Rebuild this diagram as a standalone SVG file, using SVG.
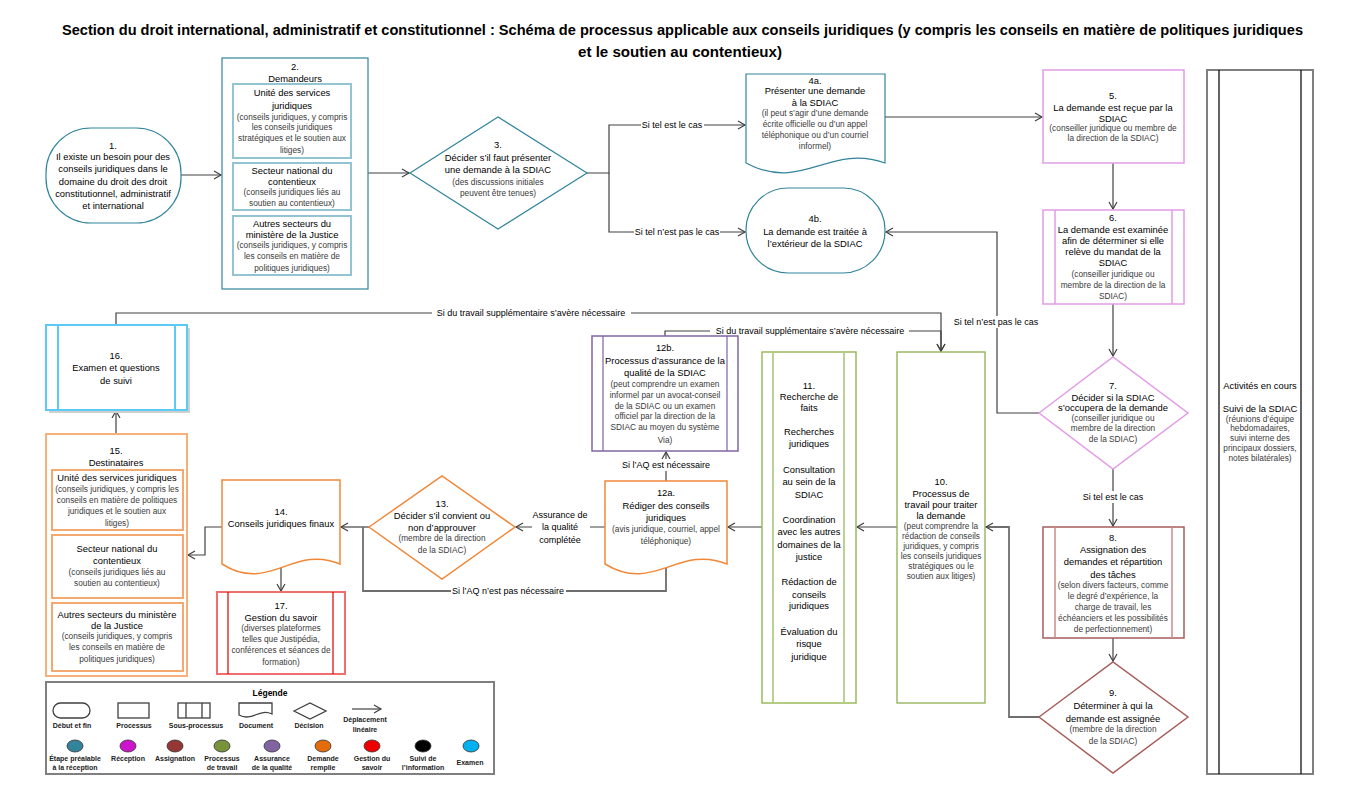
<svg xmlns="http://www.w3.org/2000/svg" width="1357" height="802" viewBox="0 0 1357 802">
<defs>
<style>
text{font-family:"Liberation Sans",Arial,sans-serif;text-anchor:middle;dominant-baseline:central;fill:#000;font-size:9.4px}
.s{font-size:8.3px;fill:#3a3a3a}
.lb{font-size:9px}
.title{font-size:14.5px;font-weight:bold;text-anchor:start;dominant-baseline:auto}
.lg{font-size:7px;font-weight:bold;fill:#222}
.c{fill:none;stroke:#404040;stroke-width:1.2}
.cg{fill:none;stroke:#6e6e6e;stroke-width:1.8}
.bg{fill:#fff}
.teal{fill:#fff;stroke:#31849B;stroke-width:1.2}
.tealin{fill:#fff;stroke:#93C4D2;stroke-width:2}
.pink{fill:#fff;stroke:#E29CE5;stroke-width:1.5}
.brown{fill:#fff;stroke:#A65E5B;stroke-width:1.5}
.green{fill:#fff;stroke:#9BBB59;stroke-width:1.5}
.purple{fill:#fff;stroke:#8064A2;stroke-width:1.5}
.orange{fill:#fff;stroke:#F0883A;stroke-width:1.5}
.orlt{fill:#fff;stroke:#F7B07A;stroke-width:2}
.red{fill:#fff;stroke:#F06E6E;stroke-width:2}
.blue{fill:#fff;stroke:#5BCBF5;stroke-width:2}
.gray{fill:#fff;stroke:#7F7F7F;stroke-width:2}
.ls{fill:none;stroke:#404040;stroke-width:1.3}
</style>
<marker id="ah" markerWidth="10" markerHeight="10" refX="8" refY="5" orient="auto" markerUnits="userSpaceOnUse">
<path d="M1,1 L8,5 L1,9" fill="none" stroke="#404040" stroke-width="1.2"/>
</marker>
</defs>
<rect width="1357" height="802" fill="#fff"/>

<g id="title">
<text class="title" x="62" y="35" textLength="1241" lengthAdjust="spacingAndGlyphs">Section du droit international, administratif et constitutionnel : Schéma de processus applicable aux conseils juridiques  (y compris les conseils en matière de politiques juridiques</text>
<text class="title" x="578" y="57" textLength="204" lengthAdjust="spacingAndGlyphs">et le soutien au contentieux)</text>
</g>

<g id="connectors">
<path class="c" d="M181,175 H221" marker-end="url(#ah)"/>
<path class="c" d="M368,173 H409" marker-end="url(#ah)"/>
<path class="c" d="M587,173 H609 V125 H745" marker-end="url(#ah)"/>
<path class="c" d="M609,173 V232 H745" marker-end="url(#ah)"/>
<path class="c" d="M885,117 H1042" marker-end="url(#ah)"/>
<path class="c" d="M1113,163 V209" marker-end="url(#ah)"/>
<path class="c" d="M1113,304 V356" marker-end="url(#ah)"/>
<path class="c" d="M1039,413 H997 V232 H886" marker-end="url(#ah)"/>
<path class="c" d="M1113,469 V526" marker-end="url(#ah)"/>
<path class="c" d="M1113,638 V661" marker-end="url(#ah)"/>
<path class="cg" d="M1039,717 H1009 V527 H986" marker-end="url(#ah)"/>
<path class="c" d="M897,527 H857" marker-end="url(#ah)"/>
<path class="c" d="M762,527 H728" marker-end="url(#ah)"/>
<path class="c" d="M605,527 H516" marker-end="url(#ah)"/>
<path class="c" d="M666,481 V452" marker-end="url(#ah)"/>
<path class="c" d="M665,336 V331 H941 V351" marker-end="url(#ah)"/>
<path class="c" d="M116,325 V313 H941 V351" marker-end="url(#ah)"/>
<path class="c" d="M369,527 H341" marker-end="url(#ah)"/>
<path class="cg" d="M666,568 V591 H363 V527"/>
<path class="c" d="M222,527 H205 V555 H188" marker-end="url(#ah)"/>
<path class="c" d="M281,568 V591" marker-end="url(#ah)"/>
<path class="c" d="M116,434 V411" marker-end="url(#ah)"/>
<rect class="bg" x="641" y="119" width="63" height="12"/>
<text class="lb" x="672" y="125">Si tel est le cas</text>
<rect class="bg" x="634" y="226" width="86" height="12"/>
<text class="lb" x="677" y="232">Si tel n’est pas le cas</text>
<rect class="bg" x="953" y="316" width="87" height="12"/>
<text class="lb" x="996" y="322">Si tel n’est pas le cas</text>
<rect class="bg" x="1080" y="491" width="66" height="12"/>
<text class="lb" x="1113" y="497">Si tel est le cas</text>
<rect class="bg" x="532" y="508" width="58" height="39"/>
<text class="lb" x="560" y="515">Assurance de</text>
<text class="lb" x="560" y="527">la qualité</text>
<text class="lb" x="560" y="540">complétée</text>
<rect class="bg" x="619" y="459" width="94" height="12"/>
<text class="lb" x="666" y="465">Si l’AQ est nécessaire</text>
<rect class="bg" x="451" y="585" width="115" height="12"/>
<text class="lb" x="508" y="591">Si l’AQ n’est pas nécessaire</text>
<rect class="bg" x="432" y="307" width="199" height="12"/>
<text class="lb" x="531" y="313">Si du travail supplémentaire s’avère nécessaire</text>
<rect class="bg" x="710" y="325" width="199" height="12"/>
<text class="lb" x="810" y="331">Si du travail supplémentaire s’avère nécessaire</text>
</g>

<g id="node1">
<rect class="teal" x="46" y="128" width="135" height="95" rx="45" ry="45"/>
<text x="113" y="145">1.</text>
<text x="113" y="156">Il existe un besoin pour des</text>
<text x="113" y="168">conseils juridiques dans le</text>
<text x="113" y="181">domaine du droit des droit</text>
<text x="113" y="193">constitutionnel, administratif</text>
<text x="113" y="205">et  international</text>
</g>

<g id="node2">
<rect class="teal" x="222" y="58" width="146" height="231"/>
<text x="295" y="66">2.</text>
<text x="295" y="78">Demandeurs</text>
<rect class="tealin" x="233" y="84" width="118" height="74"/>
<text x="292" y="92">Unité des services</text>
<text x="292" y="105">juridiques</text>
<text class="s" x="292" y="117">(conseils juridiques, y compris</text>
<text class="s" x="292" y="127">les conseils juridiques</text>
<text class="s" x="292" y="138">stratégiques et le soutien aux</text>
<text class="s" x="292" y="150">litiges)</text>
<rect class="tealin" x="233" y="163" width="118" height="47"/>
<text x="292" y="170">Secteur national du</text>
<text x="292" y="181">contentieux</text>
<text class="s" x="292" y="192">(conseils juridiques liés au</text>
<text class="s" x="292" y="203">soutien au contentieux)</text>
<rect class="tealin" x="233" y="216" width="118" height="59"/>
<text x="292" y="223">Autres secteurs du</text>
<text x="292" y="234">ministère de la Justice</text>
<text class="s" x="292" y="245">(conseils juridiques, y compris</text>
<text class="s" x="292" y="256">les conseils en matière de</text>
<text class="s" x="292" y="268">politiques juridiques)</text>
</g>

<g id="node3">
<path class="teal" d="M410,173 L498,117 L587,173 L498,229 Z"/>
<text x="498" y="144">3.</text>
<text x="498" y="157">Décider s’il faut présenter</text>
<text x="498" y="169">une demande à la SDIAC</text>
<text class="s" x="498" y="182">(des discussions initiales</text>
<text class="s" x="498" y="193">peuvent être tenues)</text>
</g>

<g id="node4a">
<path class="teal" d="M746,74 H885 V163 C829.4,143 801.6,193 746,163 Z"/>
<text x="815" y="80">4a.</text>
<text x="815" y="90">Présenter une demande</text>
<text x="815" y="102">à la SDIAC</text>
<text class="s" x="815" y="113">(il peut s’agir d’une demande</text>
<text class="s" x="815" y="124">écrite officielle ou d’un appel</text>
<text class="s" x="815" y="135">téléphonique ou d’un courriel</text>
<text class="s" x="815" y="146">informel)</text>
</g>

<g id="node4b">
<rect class="teal" x="746" y="188" width="139" height="85" rx="42" ry="42"/>
<text x="815" y="218">4b.</text>
<text x="815" y="231">La demande est traitée à</text>
<text x="815" y="243">l’extérieur de la SDIAC</text>
</g>

<g id="node5">
<rect class="pink" x="1043" y="70" width="141" height="93"/>
<text x="1113" y="95">5.</text>
<text x="1113" y="107">La demande est reçue par la</text>
<text x="1113" y="118">SDIAC</text>
<text class="s" x="1113" y="128">(conseiller juridique ou membre de</text>
<text class="s" x="1113" y="138">la direction de la SDIAC)</text>
</g>

<g id="node6">
<rect class="pink" x="1043" y="210" width="141" height="94"/>
<path class="pink" d="M1055,210 V304 M1172,210 V304"/>
<text x="1113" y="217">6.</text>
<text x="1113" y="229">La demande est examinée</text>
<text x="1113" y="240">afin de déterminer si elle</text>
<text x="1113" y="251">relève du mandat de la</text>
<text x="1113" y="262">SDIAC</text>
<text class="s" x="1113" y="274">(conseiller juridique ou</text>
<text class="s" x="1113" y="285">membre de la direction de la</text>
<text class="s" x="1113" y="296">SDIAC)</text>
</g>

<g id="node7">
<path class="pink" d="M1039,413 L1113,357 L1188,413 L1113,469 Z"/>
<text x="1113" y="385">7.</text>
<text x="1113" y="397">Décider si la SDIAC</text>
<text x="1113" y="407">s’occupera de la demande</text>
<text class="s" x="1113" y="418">(conseiller juridique ou</text>
<text class="s" x="1113" y="428">membre de la direction</text>
<text class="s" x="1113" y="439">de la SDIAC)</text>
</g>

<g id="node8">
<rect class="brown" x="1043" y="527" width="141" height="111"/>
<path fill="none" stroke="#C98D8B" stroke-width="1.5" d="M1055,527 V638 M1172,527 V638"/>
<text x="1113" y="537">8.</text>
<text x="1113" y="549">Assignation des</text>
<text x="1113" y="561">demandes et répartition</text>
<text x="1113" y="574">des tâches</text>
<text class="s" x="1113" y="585">(selon divers facteurs, comme</text>
<text class="s" x="1113" y="596">le degré d’expérience, la</text>
<text class="s" x="1113" y="607">charge de travail, les</text>
<text class="s" x="1113" y="618">échéanciers et les possibilités</text>
<text class="s" x="1113" y="629">de perfectionnement)</text>
</g>

<g id="node9">
<path class="brown" d="M1039,717 L1113,662 L1188,717 L1113,773 Z"/>
<text x="1113" y="692">9.</text>
<text x="1113" y="705">Déterminer à qui la</text>
<text x="1113" y="718">demande est assignée</text>
<text class="s" x="1113" y="729">(membre de la direction</text>
<text class="s" x="1113" y="741">de la SDIAC)</text>
</g>

<g id="node10">
<rect fill="#fff" stroke="#8FAE52" stroke-width="1.3" x="897" y="352" width="88" height="351"/>
<text x="941" y="481">10.</text>
<text x="941" y="493">Processus de</text>
<text x="941" y="504">travail pour traiter</text>
<text x="941" y="515">la demande</text>
<text class="s" x="941" y="526">(peut comprendre la</text>
<text class="s" x="941" y="536">rédaction de conseils</text>
<text class="s" x="941" y="546">juridiques, y compris</text>
<text class="s" x="941" y="556">les conseils juridiques</text>
<text class="s" x="941" y="566">stratégiques ou le</text>
<text class="s" x="941" y="576">soutien aux litiges)</text>
</g>

<g id="node11">
<rect class="green" x="762" y="352" width="94" height="351"/>
<path fill="none" stroke="#B5CC8A" stroke-width="1.8" d="M773,352 V703 M844,352 V703"/>
<text x="809" y="385">11.</text>
<text x="809" y="396">Recherche de</text>
<text x="809" y="407">faits</text>
<text x="809" y="431">Recherches</text>
<text x="809" y="443">juridiques</text>
<text x="809" y="469">Consultation</text>
<text x="809" y="481">au sein de la</text>
<text x="809" y="494">SDIAC</text>
<text x="809" y="519">Coordination</text>
<text x="809" y="531">avec les autres</text>
<text x="809" y="544">domaines de la</text>
<text x="809" y="556">justice</text>
<text x="809" y="581">Rédaction de</text>
<text x="809" y="594">conseils</text>
<text x="809" y="605">juridiques</text>
<text x="809" y="631">Évaluation du</text>
<text x="809" y="643">risque</text>
<text x="809" y="656">juridique</text>
</g>

<g id="node12a">
<path class="orange" d="M605,481 H727 V564 C678.2,544 653.8,594 605,564 Z"/>
<text x="666" y="492">12a.</text>
<text x="666" y="505">Rédiger des conseils</text>
<text x="666" y="517">juridiques</text>
<text class="s" x="666" y="529">(avis juridique, courriel, appel</text>
<text class="s" x="666" y="541">téléphonique)</text>
</g>

<g id="node12b">
<rect class="purple" x="592" y="336" width="146" height="115"/>
<path fill="none" stroke="#8064A2" stroke-width="1.2" d="M603,336 V451 M727,336 V451"/>
<text x="665" y="347">12b.</text>
<text x="665" y="360">Processus d’assurance de la</text>
<text x="665" y="372">qualité de la SDIAC</text>
<text class="s" x="665" y="384">(peut comprendre un examen</text>
<text class="s" x="665" y="395">informel par un avocat-conseil</text>
<text class="s" x="665" y="406">de la SDIAC ou un examen</text>
<text class="s" x="665" y="416">officiel par la direction de la</text>
<text class="s" x="665" y="427">SDIAC au moyen du système</text>
<text class="s" x="665" y="440">Via)</text>
</g>

<g id="node13">
<path class="orange" d="M369,527 L442,476 L515,527 L442,579 Z"/>
<text x="442" y="503">13.</text>
<text x="442" y="515">Décider s’il convient ou</text>
<text x="442" y="527">non d’approuver</text>
<text class="s" x="442" y="538">(membre de la direction</text>
<text class="s" x="442" y="550">de la SDIAC)</text>
</g>

<g id="node14">
<path class="orange" d="M222,480 H340 V564 C292.8,544 269.2,594 222,564 Z"/>
<text x="281" y="511">14.</text>
<text x="281" y="523">Conseils juridiques finaux</text>
</g>

<g id="node15">
<rect class="orlt" x="46" y="434" width="141" height="242"/>
<text x="116" y="450">15.</text>
<text x="116" y="462">Destinataires</text>
<rect fill="#fff" stroke="#F2A060" stroke-width="1.8" x="52" y="470" width="131" height="60"/>
<text x="117" y="477">Unité des services juridiques</text>
<text class="s" x="117" y="489">(conseils juridiques, y compris les</text>
<text class="s" x="117" y="500">conseils en matière de politiques</text>
<text class="s" x="117" y="511">juridiques et le soutien aux</text>
<text class="s" x="117" y="523">litiges)</text>
<rect fill="#fff" stroke="#F2A060" stroke-width="1.8" x="52" y="535" width="131" height="63"/>
<text x="117" y="548">Secteur national du</text>
<text x="117" y="560">contentieux</text>
<text class="s" x="117" y="572">(conseils juridiques liés au</text>
<text class="s" x="117" y="583">soutien au contentieux)</text>
<rect fill="#fff" stroke="#F2A060" stroke-width="1.8" x="52" y="603" width="131" height="68"/>
<text x="117" y="614">Autres secteurs du ministère</text>
<text x="117" y="625">de la Justice</text>
<text class="s" x="117" y="636">(conseils juridiques, y compris</text>
<text class="s" x="117" y="647">les conseils en matière de</text>
<text class="s" x="117" y="659">politiques juridiques)</text>
</g>

<g id="node16">
<rect x="49" y="328" width="141" height="85" fill="#d0d0d0"/>
<rect class="blue" x="46" y="325" width="141" height="85"/>
<path fill="none" stroke="#5BCBF5" stroke-width="2" d="M58,325 V410 M175,325 V410"/>
<text x="116" y="355">16.</text>
<text x="116" y="367">Examen et questions</text>
<text x="116" y="380">de suivi</text>
</g>

<g id="node17">
<rect class="red" x="217" y="592" width="128" height="82"/>
<path fill="none" stroke="#E00000" stroke-width="1.2" d="M228,592 V674 M333,592 V674"/>
<text x="281" y="605">17.</text>
<text x="281" y="617">Gestion du savoir</text>
<text class="s" x="281" y="628">(diverses plateformes</text>
<text class="s" x="281" y="639">telles que Justipédia,</text>
<text class="s" x="281" y="650">conférences et séances de</text>
<text class="s" x="281" y="662">formation)</text>
</g>

<g id="ongoing">
<rect class="gray" x="1207" y="70" width="106" height="704"/>
<path fill="none" stroke="#000" stroke-width="1.2" d="M1219,70 V774 M1301,70 V774"/>
<text x="1260" y="385">Activités en cours</text>
<text x="1260" y="408">Suivi de la SDIAC</text>
<text class="s" x="1260" y="419">(réunions d’équipe</text>
<text class="s" x="1260" y="428">hebdomadaires,</text>
<text class="s" x="1260" y="438">suivi interne des</text>
<text class="s" x="1260" y="448">principaux dossiers,</text>
<text class="s" x="1260" y="458">notes bilatérales)</text>
</g>

<g id="legend">
<rect class="gray" x="46" y="682" width="448" height="92"/>
<text x="270" y="693" style="font-size:8.5px;font-weight:bold">Légende</text>
<rect class="ls" x="53" y="703" width="37" height="15" rx="7.5"/>
<text class="lg" x="72" y="725">Début et fin</text>
<rect class="ls" x="118" y="703" width="31" height="15"/>
<text class="lg" x="134" y="725">Processus</text>
<rect class="ls" x="178" y="703" width="32" height="15"/>
<path class="ls" d="M186,703 V718 M202,703 V718"/>
<text class="lg" x="196" y="725">Sous-processus</text>
<path class="ls" d="M239,703 H272 V714 C259,708 252,722 239,715 Z"/>
<text class="lg" x="256" y="725">Document</text>
<path class="ls" d="M294,711 L310,703 L326,711 L310,719 Z"/>
<text class="lg" x="309" y="725">Décision</text>
<path class="c" d="M352,709 H381" marker-end="url(#ah)"/>
<text class="lg" x="365" y="719">Déplacement</text>
<text class="lg" x="365" y="729">linéaire</text>
<g stroke="#333" stroke-width="0.8">
<ellipse cx="75" cy="746" rx="8" ry="6" fill="#31849B"/>
<ellipse cx="128" cy="746" rx="8" ry="6" fill="#CC14CC"/>
<ellipse cx="175" cy="746" rx="8" ry="6" fill="#953735"/>
<ellipse cx="222" cy="746" rx="8" ry="6" fill="#77933C"/>
<ellipse cx="272" cy="746" rx="8" ry="6" fill="#8064A2"/>
<ellipse cx="323" cy="746" rx="8" ry="6" fill="#E46C0A"/>
<ellipse cx="372" cy="746" rx="8" ry="6" fill="#EE0000"/>
<ellipse cx="423" cy="746" rx="8" ry="6" fill="#000"/>
<ellipse cx="471" cy="746" rx="8" ry="6" fill="#00B0F0"/>
</g>
<text class="lg" x="75" y="758">Étape préalable</text>
<text class="lg" x="75" y="767">à la réception</text>
<text class="lg" x="128" y="758">Réception</text>
<text class="lg" x="175" y="758">Assignation</text>
<text class="lg" x="222" y="758">Processus</text>
<text class="lg" x="222" y="767">de travail</text>
<text class="lg" x="272" y="758">Assurance</text>
<text class="lg" x="272" y="767">de la qualité</text>
<text class="lg" x="323" y="758">Demande</text>
<text class="lg" x="323" y="767">remplie</text>
<text class="lg" x="372" y="758">Gestion du</text>
<text class="lg" x="372" y="767">savoir</text>
<text class="lg" x="423" y="758">Suivi de</text>
<text class="lg" x="423" y="767">l’information</text>
<text class="lg" x="470" y="762">Examen</text>
</g>
</svg>
